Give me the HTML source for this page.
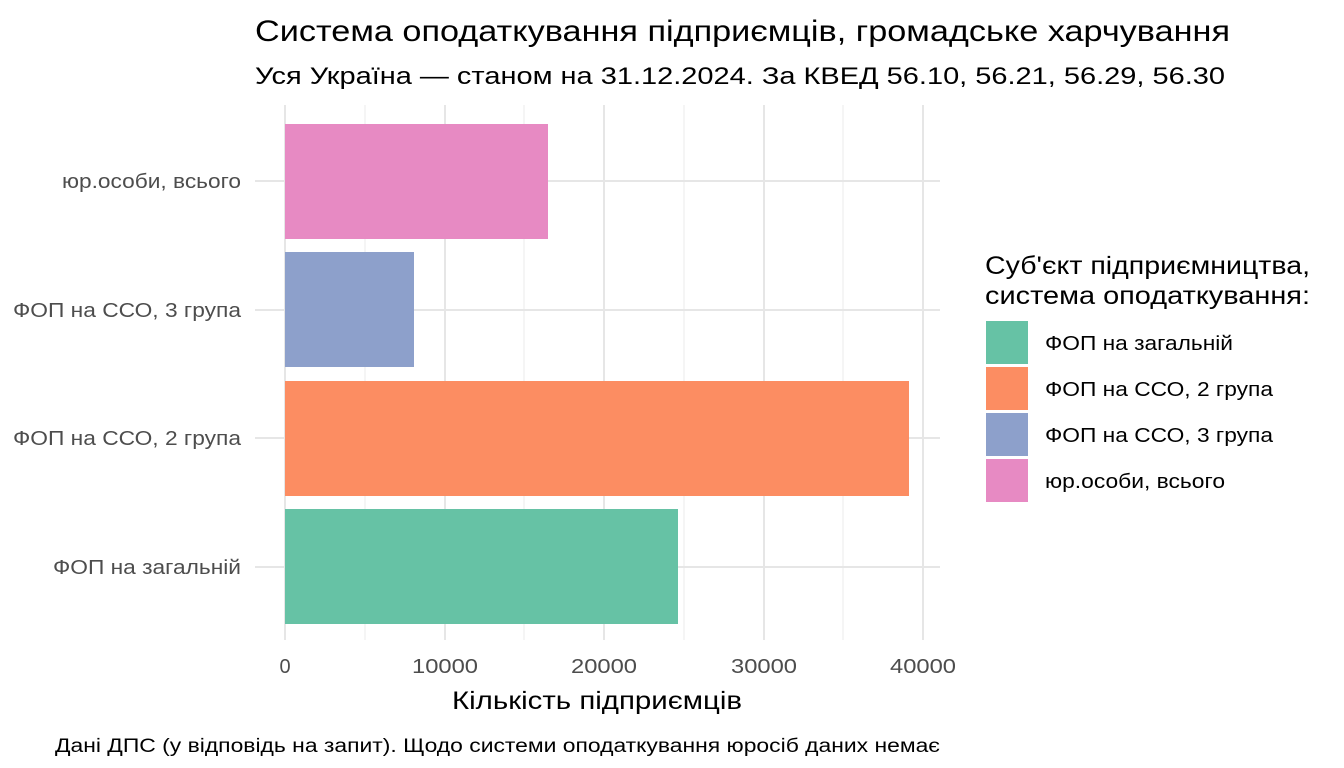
<!DOCTYPE html>
<html><head><meta charset="utf-8"><style>
html,body{margin:0;padding:0;background:#fff;}
svg{display:block;font-family:"Liberation Sans",Arial,sans-serif;}
</style></head><body>
<svg width="1344" height="768" viewBox="0 0 1344 768" xmlns="http://www.w3.org/2000/svg">
<rect width="1344" height="768" fill="#fff"/>
<g stroke="#ebebeb" stroke-width="1">
<line x1="365" y1="105" x2="365" y2="640"/><line x1="524" y1="105" x2="524" y2="640"/>
<line x1="684" y1="105" x2="684" y2="640"/><line x1="843" y1="105" x2="843" y2="640"/>
</g>
<g stroke="#e6e6e6" stroke-width="2">
<line x1="285" y1="105" x2="285" y2="640"/><line x1="445" y1="105" x2="445" y2="640"/>
<line x1="604" y1="105" x2="604" y2="640"/><line x1="764" y1="105" x2="764" y2="640"/>
<line x1="923" y1="105" x2="923" y2="640"/>
<line x1="255" y1="181" x2="940" y2="181"/><line x1="255" y1="310" x2="940" y2="310"/>
<line x1="255" y1="438" x2="940" y2="438"/><line x1="255" y1="567" x2="940" y2="567"/>
</g>
<rect x="285" y="124" width="263" height="115" fill="#e78ac3"/>
<rect x="285" y="252" width="129" height="115" fill="#8da0cb"/>
<rect x="285" y="381" width="624" height="115" fill="#fc8d62"/>
<rect x="285" y="509" width="393" height="115" fill="#66c2a5"/>
<g font-size="20" fill="#4d4d4d" text-anchor="end" lengthAdjust="spacingAndGlyphs">
<text x="241" y="188" textLength="179" lengthAdjust="spacingAndGlyphs">юр.особи, всього</text>
<text x="241" y="317" textLength="228" lengthAdjust="spacingAndGlyphs">ФОП на ССО, 3 група</text>
<text x="241" y="445" textLength="228" lengthAdjust="spacingAndGlyphs">ФОП на ССО, 2 група</text>
<text x="241" y="574" textLength="188" lengthAdjust="spacingAndGlyphs">ФОП на загальній</text>
</g>
<g font-size="20" fill="#4d4d4d" text-anchor="middle">
<text x="285" y="673">0</text>
<text x="445" y="673" textLength="66" lengthAdjust="spacingAndGlyphs">10000</text>
<text x="604" y="673" textLength="66" lengthAdjust="spacingAndGlyphs">20000</text>
<text x="764" y="673" textLength="66" lengthAdjust="spacingAndGlyphs">30000</text>
<text x="923" y="673" textLength="66" lengthAdjust="spacingAndGlyphs">40000</text>
</g>
<text x="452" y="709" font-size="25" textLength="290" lengthAdjust="spacingAndGlyphs">Кількість підприємців</text>
<text x="255" y="41" font-size="30" textLength="975" lengthAdjust="spacingAndGlyphs">Система оподаткування підприємців, громадське харчування</text>
<text x="255" y="84" font-size="24" textLength="970" lengthAdjust="spacingAndGlyphs">Уся Україна — станом на 31.12.2024. За КВЕД 56.10, 56.21, 56.29, 56.30</text>
<text x="55" y="752" font-size="19" textLength="885" lengthAdjust="spacingAndGlyphs">Дані ДПС (у відповідь на запит). Щодо системи оподаткування юросіб даних немає</text>
<text x="985" y="274" font-size="25" textLength="325" lengthAdjust="spacingAndGlyphs">Суб'єкт підприємництва,</text>
<text x="985" y="304" font-size="25" textLength="325" lengthAdjust="spacingAndGlyphs">система оподаткування:</text>
<rect x="986" y="321" width="42" height="43" fill="#66c2a5"/>
<rect x="986" y="367" width="42" height="43" fill="#fc8d62"/>
<rect x="986" y="413" width="42" height="43" fill="#8da0cb"/>
<rect x="986" y="459" width="42" height="43" fill="#e78ac3"/>
<g font-size="20" fill="#000">
<text x="1045" y="350" textLength="188" lengthAdjust="spacingAndGlyphs">ФОП на загальній</text>
<text x="1045" y="396" textLength="228" lengthAdjust="spacingAndGlyphs">ФОП на ССО, 2 група</text>
<text x="1045" y="442" textLength="228" lengthAdjust="spacingAndGlyphs">ФОП на ССО, 3 група</text>
<text x="1045" y="488" textLength="180" lengthAdjust="spacingAndGlyphs">юр.особи, всього</text>
</g>
</svg>
</body></html>
